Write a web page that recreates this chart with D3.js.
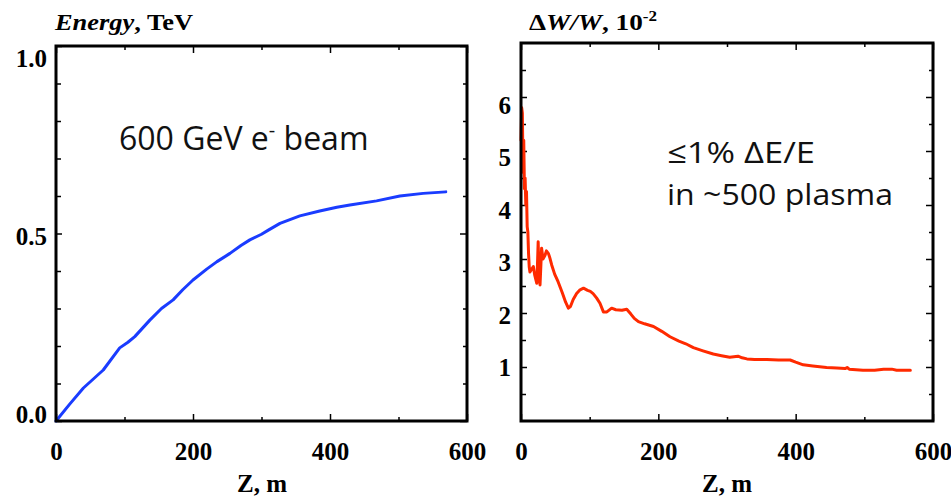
<!DOCTYPE html>
<html>
<head>
<meta charset="utf-8">
<script src="https://cdn.jsdelivr.net/npm/d3@7"></script>
<style>
  body { margin: 0; background: #fff; }
  svg { display: block; }
  .tick text { font-family: "Liberation Serif", "Times New Roman", serif; font-weight: bold; }
</style>
</head>
<body>
<svg id="chart" width="951" height="497"></svg>
<script>
// ---- Data ----
const energyZ = [0, 20, 40, 69, 93, 105, 115, 137, 154, 171, 185, 200, 220, 235, 254, 270, 283, 300, 310, 327, 356, 385, 410, 429, 468, 502, 536, 569];
const energyTeV = [0, 0.045, 0.088, 0.136, 0.195, 0.21, 0.225, 0.269, 0.30, 0.323, 0.35, 0.376, 0.405, 0.425, 0.447, 0.468, 0.483, 0.498, 0.509, 0.527, 0.547, 0.56, 0.57, 0.576, 0.587, 0.60, 0.607, 0.611];

const spreadZ = [0, 1, 2, 3, 4, 5, 6, 7, 8, 9, 10, 11, 12, 13, 15, 18, 20, 22, 23, 24, 25, 26, 27.7, 29, 30, 32, 35, 37, 40, 42, 44.7, 49, 54, 60, 65, 69, 72, 76, 81, 86, 91, 97, 101, 105, 110, 115, 120, 125, 132, 138, 147, 154, 160, 165, 171, 180, 193, 205, 217, 230, 240, 251, 265, 280, 292, 304, 310, 316, 322, 329, 340, 358, 375, 392, 400, 411, 425, 445, 460, 472, 475, 478, 498, 515, 528, 540, 547, 567];
const spreadPct = [5.2, 5.8, 5.7, 4.6, 5.2, 4.3, 4.5, 4.0, 4.25, 3.6, 3.5, 3.1, 2.85, 2.76, 2.8, 2.86, 2.7, 2.6, 2.55, 2.9, 3.32, 2.8, 2.52, 2.9, 3.2, 3.0, 3.07, 3.15, 3.1, 3.02, 2.89, 2.72, 2.58, 2.38, 2.2, 2.09, 2.12, 2.25, 2.36, 2.43, 2.46, 2.42, 2.4, 2.36, 2.28, 2.18, 2.02, 2.02, 2.09, 2.06, 2.05, 2.07, 1.98, 1.9, 1.84, 1.8, 1.75, 1.66, 1.56, 1.48, 1.43, 1.36, 1.3, 1.24, 1.21, 1.18, 1.19, 1.2, 1.17, 1.15, 1.14, 1.14, 1.13, 1.13, 1.09, 1.04, 1.02, 0.99, 0.98, 0.97, 0.99, 0.96, 0.94, 0.94, 0.96, 0.96, 0.94, 0.94];

const xTickLabels = [0, 200, 400, 600];
const xMinorTicks = [100, 300, 500];
const leftYLabels = [0, 0.5, 1.0];
const leftYMinor = [0.1, 0.2, 0.3, 0.4, 0.6, 0.7, 0.8, 0.9];
const rightYLabels = [1, 2, 3, 4, 5, 6];
const rightYMinor = [0.5, 1.5, 2.5, 3.5, 4.5, 5.5, 6.5];

const svg = d3.select("#chart");
const serif = '"Liberation Serif", "Times New Roman", serif';
const sans = '"Open Sans", "Noto Sans", sans-serif';

function panel(opt) {
  const g = svg.append("g");
  const x = d3.scaleLinear().domain([0, 600]).range([opt.x0, opt.x1]);
  const y = d3.scaleLinear().domain(opt.yDomain).range([opt.y1, opt.y0]);
  const yLab = d3.scaleLinear().domain(opt.labDomain).range(opt.labRange);

  const MAJ = 7, MIN = 4;
  function tickAxis(axisFn, scale, vals, size, transform) {
    const a = g.append("g").attr("transform", transform)
      .call(axisFn(scale).tickValues(vals).tickSize(size).tickFormat(""));
    a.select(".domain").remove();
    a.selectAll(".tick line").attr("stroke", "#000").attr("stroke-width", 1.5);
  }
  tickAxis(d3.axisBottom, x, xTickLabels, -MAJ, `translate(0,${opt.y1})`);
  tickAxis(d3.axisBottom, x, xMinorTicks, -MIN, `translate(0,${opt.y1})`);
  tickAxis(d3.axisTop, x, xTickLabels, -MAJ, `translate(0,${opt.y0})`);
  tickAxis(d3.axisTop, x, xMinorTicks, -MIN, `translate(0,${opt.y0})`);
  tickAxis(d3.axisLeft, y, opt.yMajor, -MAJ + 1, `translate(${opt.x0},0)`);
  tickAxis(d3.axisLeft, y, opt.yMinor, -MIN - 1, `translate(${opt.x0},0)`);
  tickAxis(d3.axisRight, y, opt.yMajor, -MAJ, `translate(${opt.x1},0)`);
  tickAxis(d3.axisRight, y, opt.yMinor, -MIN, `translate(${opt.x1},0)`);

  const xl = g.append("g").attr("transform", `translate(0,${opt.y1})`)
    .call(d3.axisBottom(x).tickValues(xTickLabels).tickSize(0).tickPadding(0).tickFormat(d3.format("d")));
  xl.select(".domain").remove();
  xl.selectAll(".tick text").attr("font-size", 25).attr("fill", "#000")
    .attr("dy", null).attr("y", 39);

  const yl = g.append("g").attr("transform", `translate(${opt.labX},0)`)
    .call(d3.axisLeft(yLab).tickValues(opt.yLabels).tickSize(0).tickPadding(0).tickFormat(opt.fmt));
  yl.select(".domain").remove();
  yl.selectAll(".tick text").attr("font-size", 25).attr("fill", "#000")
    .attr("dy", "0.34em").attr("text-anchor", opt.labAnchor);

  const line = d3.line().x(d => x(d[0])).y(d => y(d[1]));
  g.append("path").datum(d3.zip(opt.xs, opt.ys))
    .attr("d", line).attr("fill", "none")
    .attr("stroke", opt.color).attr("stroke-width", 3)
    .attr("stroke-linejoin", "round").attr("stroke-linecap", "round");

  g.append("rect").attr("x", opt.x0).attr("y", opt.y0)
    .attr("width", opt.x1 - opt.x0).attr("height", opt.y1 - opt.y0)
    .attr("fill", "none").attr("stroke", "#000").attr("stroke-width", 3);

  g.append("text").attr("x", opt.xTitleX).attr("y", 492)
    .attr("text-anchor", "middle").attr("font-family", serif)
    .attr("font-weight", "bold").attr("font-size", 25).text("Z, m");
  return g;
}

panel({
  x0: 56, x1: 467, y0: 46, y1: 421,
  yDomain: [0, 1], yMajor: leftYLabels, yMinor: leftYMinor,
  yLabels: leftYLabels, labDomain: [0, 1], labRange: [414, 58],
  labX: 47, labAnchor: "end", fmt: d3.format(".1f"),
  xs: energyZ, ys: energyTeV, color: "#1a3cff", xTitleX: 262
});

panel({
  x0: 521, x1: 933, y0: 43, y1: 421,
  yDomain: [0, 7], yMajor: rightYLabels, yMinor: rightYMinor,
  yLabels: rightYLabels, labDomain: [1, 6], labRange: [367, 104.5],
  labX: 511, labAnchor: "end", fmt: d3.format("d"),
  xs: spreadZ, ys: spreadPct, color: "#ff2a00", xTitleX: 727
});

// Titles
const t1 = svg.append("text").attr("x", 55).attr("y", 30)
  .attr("font-family", serif).attr("font-weight", "bold").attr("font-size", 24)
  .attr("textLength", 138).attr("lengthAdjust", "spacingAndGlyphs");
t1.append("tspan").attr("font-style", "italic").text("Energy");
t1.append("tspan").text(", TeV");

const t2 = svg.append("text").attr("x", 529).attr("y", 30)
  .attr("font-family", serif).attr("font-weight", "bold").attr("font-size", 24)
  .attr("textLength", 128).attr("lengthAdjust", "spacingAndGlyphs");
t2.append("tspan").text("Δ");
t2.append("tspan").attr("font-style", "italic").text("W/W");
t2.append("tspan").text(", 10");
t2.append("tspan").attr("font-size", 15).attr("dy", -9).text("-2");

// Annotations
const a1 = svg.append("text").attr("x", 119).attr("y", 150)
  .attr("font-family", sans).attr("font-size", 32).attr("fill", "#111");
a1.append("tspan").text("600 GeV e");
a1.append("tspan").attr("font-size", 20).attr("dy", -13).text("-");
a1.append("tspan").attr("dy", 13).text(" beam");

svg.append("text").attr("x", 667).attr("y", 163)
  .attr("font-family", sans).attr("font-size", 30).attr("fill", "#111")
  .attr("textLength", 148).attr("lengthAdjust", "spacingAndGlyphs")
  .text("≤1% ΔE/E");
svg.append("text").attr("x", 667).attr("y", 205)
  .attr("font-family", sans).attr("font-size", 30).attr("fill", "#111")
  .attr("textLength", 226).attr("lengthAdjust", "spacingAndGlyphs")
  .text("in ~500 plasma");
</script>
</body>
</html>
